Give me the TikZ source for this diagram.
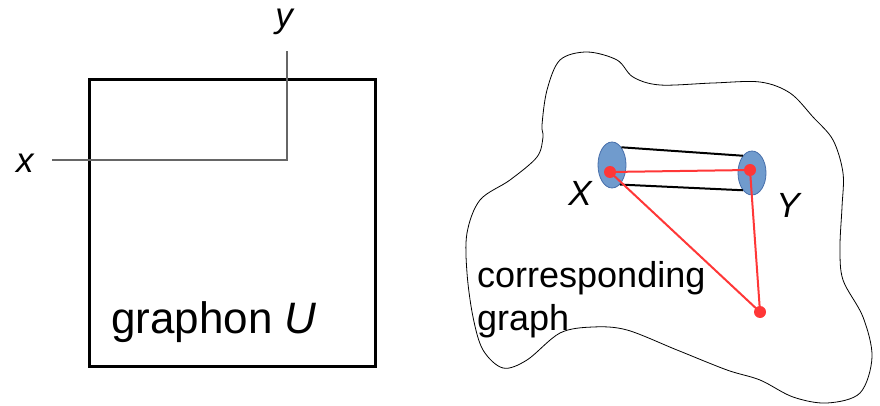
\documentclass[tikz,border=0pt]{standalone}
\usepackage{fontspec}
\setmainfont{Liberation Sans}
\usepackage{tikz}
\usetikzlibrary{shapes.geometric}
\definecolor{ellblue}{RGB}{112,155,205}
\definecolor{ellline}{RGB}{70,110,170}
\definecolor{edgered}{RGB}{255,55,55}
\begin{document}
\begin{tikzpicture}[
    x=1pt, y=-1pt,
    lab/.style={font=\fontsize{35}{42}\selectfont\itshape, inner sep=0pt},
    txt/.style={font=\fontsize{36}{43}\selectfont, align=left, inner sep=0pt},
    blobset/.style={ellipse, draw=ellline, fill=ellblue, line width=0.8pt,
                    minimum width=28, minimum height=46, inner sep=0pt},
    vert/.style={circle, fill=edgered, minimum size=12, inner sep=0pt},
    redge/.style={edgered, line width=2pt},
]
\useasboundingbox (0,0) rectangle (880,406);
% ---------------- left: the graphon square ----------------
\draw[line width=3pt] (89,80) rectangle (375,366);
\node[font=\fontsize{44}{52}\selectfont, anchor=base west, inner sep=0pt] (gU) at (111,333) {graphon \textit{U}};
\coordinate (xa) at (52,160);
\coordinate (yt) at (287,51);
\draw[gray!80!black, line width=1.3pt] (xa) -| (yt);
\node[lab, anchor=base] (xlab) at (25,173) {x};
\node[lab, anchor=base, text height=18pt] (ylab) at (284,28) {y};

% ---------------- right: the corresponding graph ----------------
\draw[line width=0.8pt] plot[smooth cycle, tension=0.55] coordinates {
    (542,125) (547,90) (560,60) (587,52) (617,60) (633,77) (660,85)
    (713,83) (760,82) (790,93) (813,117) (833,140) (843,173) (842,207)
    (840,247) (843,280) (863,317) (872,357) (860,393) (827,403) (793,397)
    (760,380) (727,370) (677,350) (627,330) (593,327) (560,333) (527,360)
    (503,368) (483,350) (473,317) (467,273) (467,233) (480,200) (510,180)
    (537,157) (543,137)};
\node[blobset] (ex) at (612,165) {};
\node[blobset, minimum height=44] (ey) at (752,173) {};
\draw[line width=2pt] (ex.62) -- (ey.118);
\draw[line width=2pt] (ex.-68) -- (ey.-118);
\node[vert] (dx) at (610,172) {};
\node[vert] (dy) at (750,170) {};
\node[vert] (dz) at (760,312) {};
\draw[redge] (dx.center) -- (dy.center);
\draw[redge] (dx.center) -- (dz.center);
\draw[redge] (dy.center) -- (dz.center);
\node[lab, anchor=base] (Xlab) at (580,205) {X};
\node[lab, anchor=base] (Ylab) at (788,217) {Y};
\node[txt, anchor=base west] (cg) at (477,330) {corresponding\\graph};
\end{tikzpicture}
\end{document}
